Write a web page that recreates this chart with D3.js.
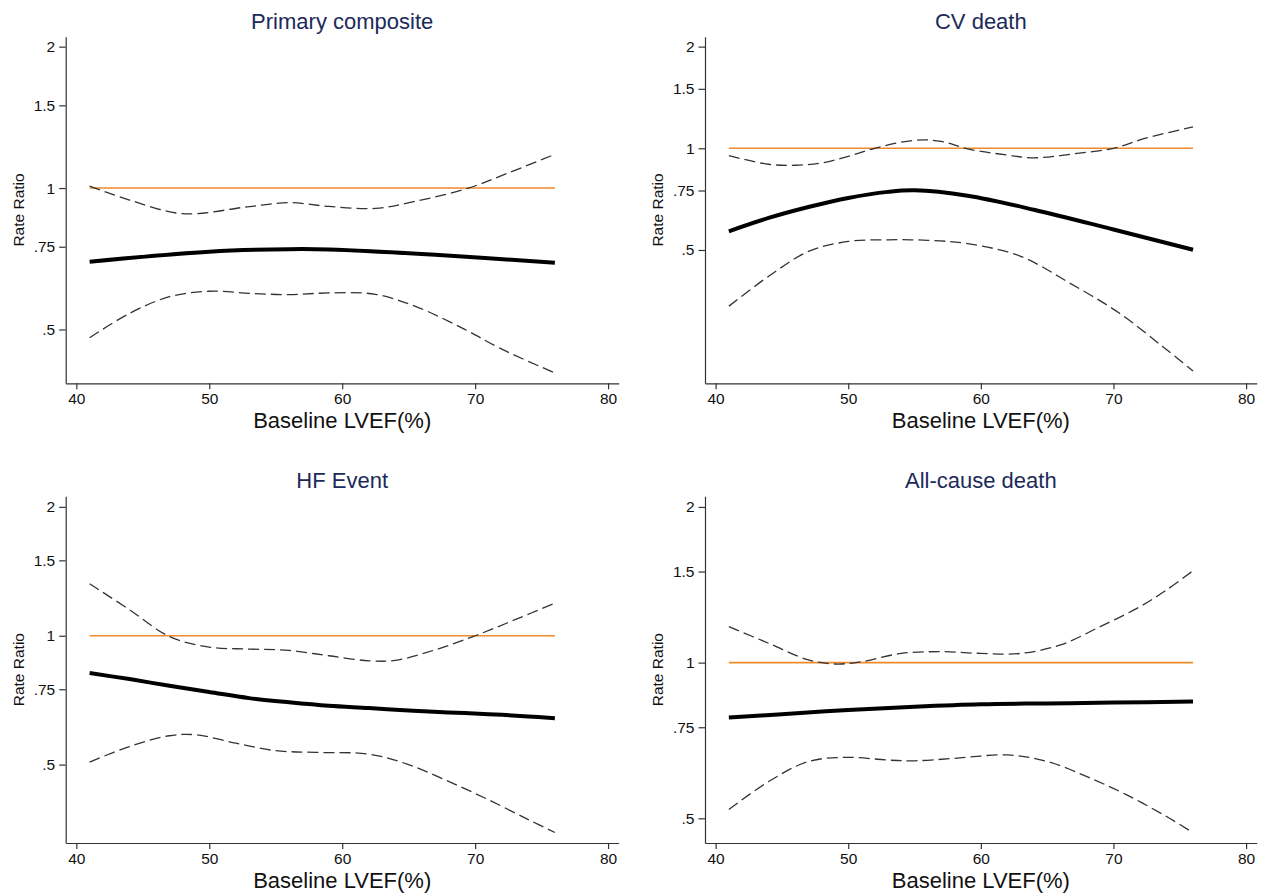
<!DOCTYPE html>
<html lang="en">
<head>
    <meta charset="UTF-8">
    <title>Rate Ratio by Baseline LVEF</title>
    <script src="https://d3js.org/d3.v7.min.js"></script>
    <style>
        body { margin: 0; background: #fff; }
        svg { display: block; font-family: "Liberation Sans", Arial, Helvetica, sans-serif; }
        .axis path, .axis line { stroke: #333; stroke-width: 1.2; }
        .axis text { fill: #111; font-size: 15.5px; }
        .title { fill: #1c2a5a; font-size: 22px; }
        .xlabel { fill: #111; font-size: 22px; }
        .ylabel { fill: #111; font-size: 15.5px; }
    </style>
</head>
<body>
<div id="chart"></div>
<script>
    // tick values / labels
    const xTicks = [40, 50, 60, 70, 80];
    const yTicks = [0.5, 0.75, 1, 1.5, 2];
    const yTickLabels = [".5", ".75", "1", "1.5", "2"];
    const refLine = [41, 76];   // rate ratio = 1 line, x from / to

    const titles = ["Primary composite", "CV death", "HF Event", "All-cause death"];
    const xRange = [39.2, 80.8];
    // y axis ranges (log scale) per panel
    const yRangePC = [0.384, 2.10];
    const yRangeCV = [0.2015, 2.14];
    const yRangeHF = [0.328, 2.117];
    const yRangeAC = [0.448, 2.097];

    // Primary composite
    const pcEstX = [41, 50, 56, 59, 67, 76];
    const pcEst  = [0.697, 0.732, 0.741, 0.740, 0.721, 0.693];
    const pcUpX  = [41, 44, 48, 53, 56, 59, 62.5, 65.5, 69.5, 72.5, 76];
    const pcUp   = [1.01, 0.943, 0.882, 0.913, 0.931, 0.914, 0.905, 0.937, 1.0, 1.077, 1.18];
    const pcLoX  = [41, 44, 47, 50, 53, 56, 59, 62.5, 65.5, 69, 72, 76];
    const pcLo   = [0.480, 0.541, 0.587, 0.603, 0.597, 0.593, 0.598, 0.594, 0.560, 0.504, 0.454, 0.404];

    // CV death
    const cvEstX = [41, 44, 47, 50, 53, 55, 59, 64, 70, 76];
    const cvEst  = [0.568, 0.622, 0.670, 0.713, 0.743, 0.751, 0.724, 0.658, 0.575, 0.501];
    const cvUpX  = [41, 44, 46, 48, 50, 52, 55, 57, 59, 62, 64, 67, 70, 72.5, 76];
    const cvUp   = [0.951, 0.897, 0.891, 0.905, 0.947, 1.0, 1.056, 1.049, 0.996, 0.955, 0.937, 0.963, 1.0, 1.073, 1.157];
    const cvLoX  = [41, 44, 47, 50, 53, 56, 59, 63, 66.7, 70.4, 73.7, 76];
    const cvLo   = [0.341, 0.418, 0.495, 0.530, 0.536, 0.534, 0.522, 0.479, 0.399, 0.326, 0.259, 0.219];

    // HF Event
    const hfEstX = [41, 44, 47, 50, 53, 56, 59, 62, 65, 68, 71, 74, 76];
    const hfEst  = [0.818, 0.792, 0.764, 0.739, 0.715, 0.699, 0.686, 0.678, 0.669, 0.662, 0.656, 0.648, 0.642];
    const hfUpX  = [41, 44, 47, 50, 53, 56, 59, 62, 64, 67, 70, 73, 76];
    const hfUp   = [1.323, 1.150, 0.996, 0.941, 0.931, 0.924, 0.898, 0.874, 0.876, 0.927, 1.0, 1.09, 1.192];
    const hfLoX  = [41, 44, 47, 49, 52, 55, 58, 62, 65, 68, 71, 74, 76];
    const hfLo   = [0.507, 0.551, 0.584, 0.587, 0.561, 0.539, 0.534, 0.529, 0.500, 0.457, 0.414, 0.372, 0.347];

    // All-cause death
    const acEstX = [41, 45, 50, 55, 60, 65, 70, 76];
    const acEst  = [0.783, 0.795, 0.810, 0.822, 0.831, 0.834, 0.837, 0.841];
    const acUpX  = [41, 44, 47, 49, 51, 54, 57, 60, 63, 66, 69, 72, 74, 76];
    const acUp   = [1.174, 1.090, 1.012, 0.994, 1.004, 1.042, 1.05, 1.042, 1.042, 1.082, 1.174, 1.283, 1.382, 1.506];
    const acLoX  = [41, 44, 47, 50, 53, 55, 58, 62, 65, 68, 71, 74, 76];
    const acLo   = [0.520, 0.589, 0.644, 0.656, 0.648, 0.646, 0.653, 0.663, 0.644, 0.602, 0.555, 0.504, 0.469];

    const zip = (xs, ys) => xs.map((x, i) => ({ x: x, y: ys[i] }));

    const panels = [
        { title: titles[0], yRange: yRangePC, est: zip(pcEstX, pcEst), up: zip(pcUpX, pcUp), lo: zip(pcLoX, pcLo),
          left: 65.7, right: 618.7, top: 36.7, bottom: 383.3 },
        { title: titles[1], yRange: yRangeCV, est: zip(cvEstX, cvEst), up: zip(cvUpX, cvUp), lo: zip(cvLoX, cvLo),
          left: 705, right: 1256.7, top: 36.7, bottom: 383.3 },
        { title: titles[2], yRange: yRangeHF, est: zip(hfEstX, hfEst), up: zip(hfUpX, hfUp), lo: zip(hfLoX, hfLo),
          left: 65.7, right: 618.7, top: 496.3, bottom: 843 },
        { title: titles[3], yRange: yRangeAC, est: zip(acEstX, acEst), up: zip(acUpX, acUp), lo: zip(acLoX, acLo),
          left: 705, right: 1256.7, top: 496.3, bottom: 843 }
    ];

    const svg = d3.select("#chart").append("svg")
        .attr("width", 1261)
        .attr("height", 893);

    panels.forEach(p => {
        const g = svg.append("g");
        const x = d3.scaleLinear().domain(xRange).range([p.left, p.right]);
        const y = d3.scaleLog().domain(p.yRange).range([p.bottom, p.top]);
        const cx = (p.left + p.right) / 2;

        // axes
        g.append("g")
            .attr("class", "axis")
            .attr("transform", `translate(0,${p.bottom})`)
            .call(d3.axisBottom(x).tickValues(xTicks).tickSize(6).tickPadding(4).tickSizeOuter(0));

        g.append("g")
            .attr("class", "axis")
            .attr("transform", `translate(${p.left},0)`)
            .call(d3.axisLeft(y).tickValues(yTicks).tickSize(6.5).tickPadding(4).tickSizeOuter(0)
                .tickFormat((d, i) => yTickLabels[i]));

        // titles
        g.append("text").attr("class", "title")
            .attr("x", cx).attr("y", p.top - 8)
            .attr("text-anchor", "middle")
            .text(p.title);

        g.append("text").attr("class", "xlabel")
            .attr("x", cx).attr("y", p.bottom + 45)
            .attr("text-anchor", "middle")
            .text("Baseline LVEF(%)");

        g.append("text").attr("class", "ylabel")
            .attr("transform", `translate(${p.left - 42},${(p.top + p.bottom) / 2}) rotate(-90)`)
            .attr("text-anchor", "middle")
            .text("Rate Ratio");

        const line = d3.line()
            .x(d => x(d.x))
            .y(d => y(d.y))
            .curve(d3.curveCatmullRom.alpha(0.5));

        // reference line at 1
        g.append("line")
            .attr("x1", x(refLine[0])).attr("x2", x(refLine[1]))
            .attr("y1", y(1)).attr("y2", y(1))
            .attr("stroke", "#f0892b")
            .attr("stroke-width", 1.6);

        // confidence bands
        [p.up, p.lo].forEach(s => {
            g.append("path")
                .datum(s)
                .attr("d", line)
                .attr("fill", "none")
                .attr("stroke", "#333")
                .attr("stroke-width", 1.3)
                .attr("stroke-dasharray", "11,5");
        });

        // estimate
        g.append("path")
            .datum(p.est)
            .attr("d", line)
            .attr("fill", "none")
            .attr("stroke", "#000")
            .attr("stroke-width", 4);
    });
</script>
</body>
</html>
